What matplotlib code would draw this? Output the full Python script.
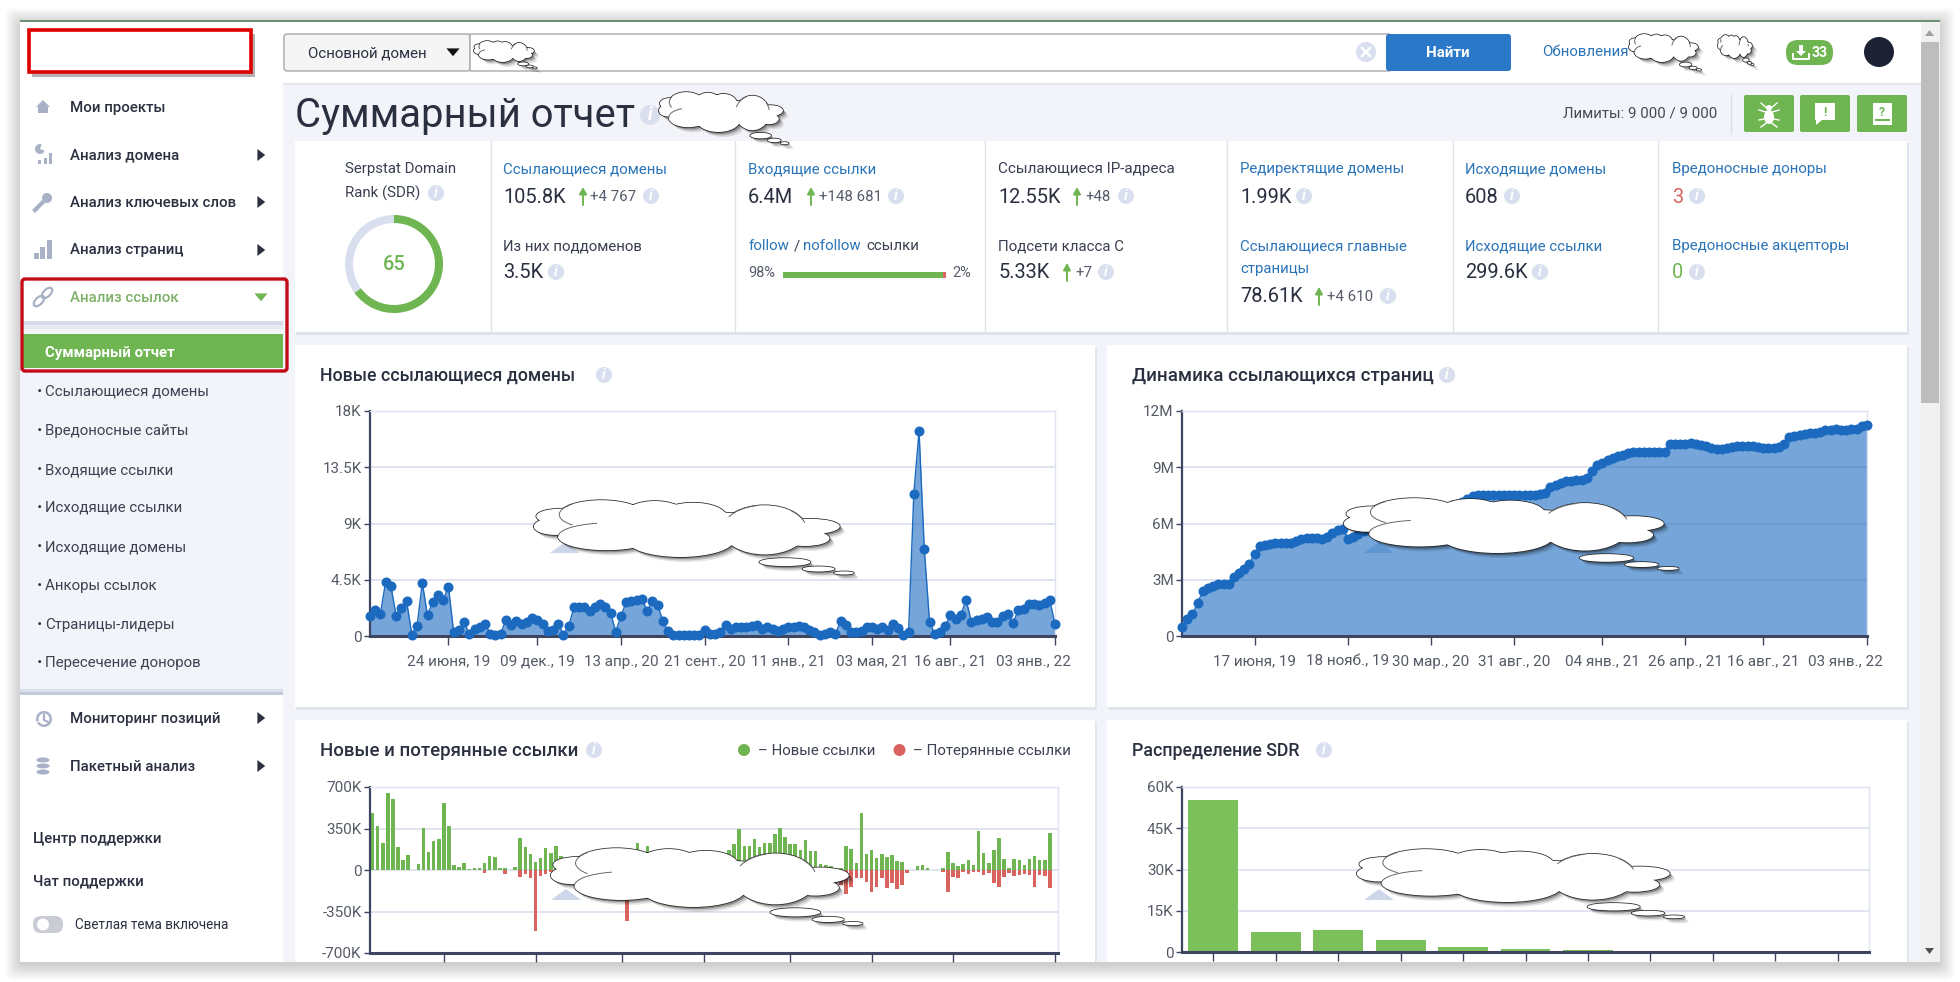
import numpy as np
import matplotlib
matplotlib.use('Agg')
import matplotlib.pyplot as plt
from matplotlib.patches import Rectangle, FancyBboxPatch, Circle, Wedge, Polygon, PathPatch, Ellipse, Arc
from matplotlib.path import Path
from matplotlib.transforms import Affine2D, ScaledTranslation

plt.rcParams['font.family'] = ['Roboto', 'DejaVu Sans']

W, H = 1960, 982

# chart values
new_domains_k = [1.6, 2.05, 1.8, 4.35, 4.0, 1.6, 2.25, 2.8, 0.1, 0.8, 4.25, 1.65, 2.75, 3.3, 2.9, 3.95,
                 0.3, 0.5, 1.1, 0.15, 0.6, 0.75, 0.95, 0.2, 0.05, 0.2, 1.3, 0.9, 1.2, 0.95, 1.15, 1.45,
                 1.3, 0.95, 0.4, 0.5, 1.0, 0.1, 0.8, 2.3, 2.3, 2.35, 2.0, 2.3, 2.55, 2.3, 1.85, 0.35,
                 1.6, 2.75, 2.8, 2.85, 3.0, 2.0, 2.8, 2.5, 1.2, 0.4, 0.1, 0.05, 0.1, 0.1, 0.05, 0.05,
                 0.45, 0.15, 0.2, 0.3, 0.85, 0.6, 0.7, 0.7, 0.75, 0.8, 0.85, 0.6, 0.75, 0.6, 0.4, 0.6,
                 0.7, 0.75, 0.8, 0.7, 0.5, 0.3, 0.05, 0.2, 0.3, 0.15, 1.2, 0.9, 0.3, 0.35, 0.4, 0.7,
                 0.7, 0.6, 0.75, 0.5, 0.95, 0.65, 0.1, 0.3, 11.4, 16.4, 7.0, 1.15, 0.15, 0.3, 0.8, 1.7,
                 1.4, 1.7, 2.9, 1.15, 1.3, 1.4, 1.5, 1.15, 1.1, 1.6, 1.75, 1.05, 2.1, 2.15, 2.6, 2.6,
                 2.5, 2.65, 2.85, 0.95]
new_domains_ticks = ['24 июня, 19', '09 дек., 19', '13 апр., 20', '21 сент., 20', '11 янв., 21',
                     '03 мая, 21', '16 авг., 21', '03 янв., 22']
new_domains_idx = [15, 32, 48, 64, 80, 96, 111, 131]

pages_m = [0.5, 0.9, 1.15, 1.75, 2.4, 2.55, 2.65, 2.75, 2.75, 2.8, 3.15, 3.35, 3.55, 3.85, 4.4, 4.8, 4.85,
           4.9, 4.95, 4.95, 4.95, 4.95, 5.05, 5.15, 5.25, 5.25, 5.25, 5.2, 5.3, 5.5, 5.65, 5.7, 5.2, 5.3, 5.45,
           5.6, 5.7, 5.8, 5.9, 6.0, 6.05, 6.15, 6.2, 6.3, 6.35, 6.45, 6.5, 6.6, 6.65, 6.75, 6.8, 6.9, 7.0, 7.05, 7.15,
           7.3, 7.45, 7.5, 7.5, 7.5, 7.5, 7.5, 7.5, 7.5, 7.5, 7.5, 7.5, 7.5, 7.5, 7.55, 7.65, 7.95, 8.05, 8.15, 8.25,
           8.25, 8.3, 8.3, 8.45, 8.8, 9.1, 9.25, 9.4, 9.5, 9.6, 9.65, 9.75, 9.8, 9.8, 9.8, 9.8, 9.8, 9.8, 9.8,
           10.25, 10.25, 10.25, 10.25, 10.3, 10.25, 10.2, 10.15, 10.05, 10.0, 10.0, 10.05, 10.1, 10.15, 10.15, 10.15,
           10.15, 10.1, 10.05, 10.05, 10.05, 10.1, 10.25, 10.6, 10.65, 10.7, 10.75, 10.85, 10.85, 10.9, 11.0, 11.0,
           11.05, 11.0, 11.0, 11.05, 11.05, 11.2, 11.25]
pages_ticks = ['17 июня, 19', '18 нояб., 19', '30 мар., 20', '31 авг., 20', '04 янв., 21',
               '26 апр., 21', '16 авг., 21', '03 янв., 22']
pages_idx = [14, 32, 48, 64, 81, 97, 112, 132]

links_new_k = [478, 370, 229, 648, 600, 195, 88, 125, 0, 48, 356, 150, 243, 260, 568, 370, 40, 25, 59, 5, 14, 20,
               59, 119, 110, 14, 15, 0, 22, 268, 195, 139, 65, 100, 184, 142, 201,
               120, 90, 60, 80, 110, 70, 60, 90, 50, 70, 80, 60, 90, 110, 130, 224, 130, 200,
               100, 120, 90, 70, 60, 80, 110, 50, 70, 60, 90, 120, 80, 100, 140, 170,
               218, 342, 200, 204, 258, 195, 224, 226, 303, 356, 275, 218, 218, 167, 249, 161, 164, 54,
               40, 30, 20, 15, 200, 175, 57, 481, 133, 167, 99, 139, 108, 125, 79, 65, 0, 0, 31, 45, 20, 0, 0,
               14, 150, 57, 31, 48, 85, 40, 331, 142, 57, 170, 269, 91, 14, 91, 82, 45, 96, 119, 82, 82, 311]
links_lost_k = [0] * 22 + [25, 0, 0, 0, 31, 0, 0, 60, 37, 65, 512, 50, 31, 20, 25,
                           30, 25, 20, 30, 25, 30, 20, 30, 25, 20, 30, 25, 30, 427,
                           30, 25, 30, 20, 30, 25, 30, 30, 25, 20, 30, 25, 30, 20, 30, 25, 30, 30, 20, 25, 30,
                           25, 30, 20, 30, 25, 30, 30, 25, 20, 30, 25, 30, 20, 30, 25, 30, 60, 80, 100, 110,
                           130, 206, 144, 65, 65, 105, 184, 144, 65, 156, 110, 158, 125, 25, 0, 0, 0, 0, 0, 0,
                           17, 184, 60, 71, 17, 31, 14, 14, 42, 25, 110, 144, 60, 28, 51, 42, 37, 42, 144, 42, 51, 150]
links_idx = [14, 32, 49, 65, 82, 98, 114, 134]

sdr_k = [55.4, 7.4, 8.1, 4.5, 2.0, 1.1, 0.7, 0.2, 0.1, 0.05, 0.02]

menu_main = [('Мои проекты', 107), ('Анализ домена', 154), ('Анализ ключевых слов', 202), ('Анализ страниц', 249)]
menu_sub = [('Ссылающиеся домены', 391), ('Вредоносные сайты', 430), ('Входящие ссылки', 469),
            ('Исходящие ссылки', 507), ('Исходящие домены', 546), ('Анкоры ссылок', 585),
            ('Страницы-лидеры', 624), ('Пересечение доноров', 662)]

BLUE = '#2b74b8'
DARK = '#2a3040'
GREEN = '#6fb552'
RED = '#d9645f'
LIGHT = '#d9dfee'
GRID = '#dfe4f0'
AXIS = '#3d4560'
ICON = '#a9b1c7'

fig = plt.figure(figsize=(W / 100, H / 100), dpi=100, facecolor='white')
ax = fig.add_axes([0, 0, 1, 1], zorder=0)
ax.set_xlim(0, W)
ax.set_ylim(H, 0)
ax.axis('off')


def rect(a, x0, y0, x1, y1, color, z=1, **kw):
    a.add_patch(Rectangle((x0, y0), x1 - x0, y1 - y0, facecolor=color, edgecolor='none', zorder=z, **kw))


def rbox(a, x0, y0, x1, y1, color, r=3, z=2, ec='none', lw=0):
    a.add_patch(FancyBboxPatch((x0, y0), x1 - x0, y1 - y0, boxstyle='round,pad=0,rounding_size=%g' % r,
                               facecolor=color, edgecolor=ec, linewidth=lw, zorder=z))


def t(x, y, s, px=15, color=DARK, ha='left', weight='normal', **kw):
    ax.text(x, y + 1, s, fontsize=px * 0.72, color=color, ha=ha, va='center', weight=weight, zorder=6, **kw)


def info(x, y, r=8):
    ax.add_patch(Circle((x, y), r, facecolor=LIGHT, edgecolor='none', zorder=5))
    ax.text(x, y, 'i', fontsize=r * 1.3, color='white', ha='center', va='center', style='italic',
            weight='bold', zorder=6)


def up(x, y):
    ax.annotate('', xy=(x, y - 9), xytext=(x, y + 9),
                arrowprops=dict(arrowstyle='-|>,head_width=0.22,head_length=0.4', color=GREEN, lw=1.4,
                                shrinkA=0, shrinkB=0), zorder=6)


def tri(x, y, color='#2a3040', kind='right', s=6):
    if kind == 'right':
        pts = [(x - s * 0.6, y - s), (x - s * 0.6, y + s), (x + s * 0.7, y)]
    else:
        pts = [(x - s * 1.1, y - s * 0.6), (x + s * 1.1, y - s * 0.6), (x, y + s * 0.7)]
    ax.add_patch(Polygon(pts, facecolor=color, edgecolor='none', zorder=6))


# frame with soft shadow
for i in range(16):
    rbox(ax, 20 - i, 20 - i + 3, 1940 + i, 962 + i + 3, 'black', r=8, z=0.2)
    ax.patches[-1].set_alpha(0.012)
rect(ax, 20, 20, 1940, 962, '#f2f4f9', z=0.5)

# scrollbar
rect(ax, 1921, 20, 1940, 962, '#f1f1f1', z=1)
rect(ax, 1921, 42, 1939, 403, '#bdbdbd', z=2)
ax.add_patch(Polygon([(1925, 36), (1934, 36), (1929.5, 30)], facecolor='#a0a0a0', edgecolor='none', zorder=3))
ax.add_patch(Polygon([(1925, 948), (1934, 948), (1929.5, 954)], facecolor='#505050', edgecolor='none', zorder=3))

# header
rect(ax, 283, 20, 1921, 84, 'white', z=1)
rect(ax, 283, 83, 1921, 85, '#e4e7ee', z=1)
rect(ax, 20, 19.5, 1940, 21.5, '#6d8f72', z=5)
rbox(ax, 284, 34, 470, 71, '#f5f5f5', r=3, ec='#a8a8a8', lw=1)
rbox(ax, 470, 34, 1390, 71, 'white', r=0.5, ec='#a8a8a8', lw=1)
t(308, 52, 'Основной домен', 15)
tri(453, 52, kind='down', color='#111111')
ax.add_patch(Circle((1366, 52), 10, facecolor=LIGHT, edgecolor='none', zorder=5))
ax.plot([1362, 1370], [48, 56], color='white', lw=1.8, zorder=6)
ax.plot([1362, 1370], [56, 48], color='white', lw=1.8, zorder=6)
rbox(ax, 1386, 34, 1511, 71, '#2a78c8', r=3, z=3)
t(1448, 52, 'Найти', 15, color='white', ha='center', weight='bold')
t(1542, 51, 'Обновления', 15, color=BLUE)
rbox(ax, 1786, 40, 1833, 65, '#6fb552', r=12, z=3)
t(1820, 52, '33', 14, color='white', ha='center', weight='bold')
ax.add_patch(Polygon([(1799, 45), (1803, 45), (1803, 51), (1806, 51), (1801, 56), (1796, 51), (1799, 51)],
                     facecolor='white', edgecolor='none', zorder=6))
ax.plot([1793, 1793, 1809, 1809], [54, 59, 59, 54], color='white', lw=1.4, zorder=6)
ax.add_patch(Circle((1879, 52), 15, facecolor='#1c2233', edgecolor='none', zorder=5))

# sidebar
rect(ax, 20, 20, 283, 962, 'white', z=1)
rect(ax, 20, 322, 283, 695, '#f2f4f9', z=1.5)
rect(ax, 20, 321, 283, 325, '#d6dbe8', z=1.6)
rect(ax, 20, 325, 283, 329, '#e6e9f1', z=1.6)
rect(ax, 20, 689, 283, 692, '#dbe0ea', z=1.6)
rect(ax, 20, 692, 283, 695, '#c2cadb', z=1.6)
rect(ax, 23, 334, 283, 368, GREEN, z=2)
t(45, 352, 'Суммарный отчет', 15, color='white', weight='bold')

rect(ax, 32, 34, 255, 77, '#555555', z=2, alpha=0.45)
rect(ax, 29, 30, 251, 72, 'white', z=3)
ax.add_patch(Rectangle((29, 30), 222, 42, facecolor='none', edgecolor='#e00000', linewidth=2.6, zorder=4))
ax.add_patch(FancyBboxPatch((22, 279), 265, 92, boxstyle='round,pad=0,rounding_size=3', facecolor='none',
                            edgecolor='#c20c18', linewidth=2.4, zorder=7))

for label, y in menu_main:
    t(70, y, label, 15, weight='medium')
t(70, 297, 'Анализ ссылок', 15, color='#7fb068', weight='medium')
t(70, 718, 'Мониторинг позиций', 15, weight='medium')
t(70, 766, 'Пакетный анализ', 15, weight='medium')
for y in [155, 202, 250, 718, 766]:
    tri(261, y)
tri(261, 297, color=GREEN, kind='down', s=6)
for label, y in menu_sub:
    t(37, y, '·', 18, weight='bold')
    t(45, y, label, 15, color='#3c4252')
t(33, 838, 'Центр поддержки', 15, weight='medium')
t(33, 881, 'Чат поддержки', 15, weight='medium')
rbox(ax, 33, 916, 63, 933, '#c9ccd3', r=8, z=3)
ax.add_patch(Circle((43, 924.5), 6, facecolor='white', edgecolor='none', zorder=4))
t(75, 924, 'Светлая тема включена', 13.5)

# sidebar icons
ax.add_patch(Polygon([(36, 107), (43, 100), (50, 107), (48, 107), (48, 113), (38, 113), (38, 107)],
                     facecolor=ICON, edgecolor='none', zorder=5))
for x, y0, h in [(38, 160, 4), (44, 158, 6), (49, 153, 11)]:
    rect(ax, x, y0, x + 3, y0 + h, ICON, z=5)
ax.add_patch(Wedge((40, 149), 5, 20, 290, facecolor=ICON, edgecolor='none', zorder=5))
ax.add_patch(Circle((47, 198), 5, facecolor=ICON, edgecolor='none', zorder=5))
ax.plot([44, 35], [201, 210], color=ICON, lw=3, zorder=5)
for x, y0 in [(34, 253), (40, 247), (47, 240)]:
    rect(ax, x, y0, x + 5, 259, ICON, z=5)
for cx, cy in [(39, 301), (47, 293)]:
    ax.add_patch(Ellipse((cx, cy), 13, 7, angle=-45, facecolor='none', edgecolor=ICON, linewidth=1.6, zorder=5))
ax.add_patch(Wedge((44, 719), 8, -200, 150, width=2.5, facecolor=ICON, edgecolor='none', zorder=5))
ax.plot([44, 44, 48], [715, 720, 722], color=ICON, lw=1.6, zorder=5)
for y in [760, 766, 772]:
    ax.add_patch(Ellipse((43, y), 14, 6, facecolor=ICON, edgecolor='white', linewidth=0.6, zorder=5))

# title row
t(295, 114, 'Суммарный отчет', 40, color='#2a3040')
info(650, 115, 10)
t(1717, 112, 'Лимиты: 9 000 / 9 000', 15, color='#444a58', ha='right')
ax.plot([1731, 1731], [95, 132], color='#d8dce6', lw=1, zorder=3)
for x0 in [1744, 1800, 1857]:
    rbox(ax, x0, 95, x0 + 50, 132, GREEN, r=2, z=3)
# spider
ax.add_patch(Ellipse((1769, 117), 10, 14, facecolor='white', edgecolor='none', zorder=5))
ax.add_patch(Circle((1769, 108), 3, facecolor='white', edgecolor='none', zorder=5))
for dy, dy2, spread in [(110, 103, 8), (113, 110, 10), (118, 120, 10), (121, 127, 8)]:
    ax.plot([1769 - spread, 1769, 1769 + spread], [dy2, dy, dy2], color='white', lw=1, zorder=5)
# bubble with exclamation
ax.add_patch(Polygon([(1815, 103), (1835, 103), (1835, 120), (1822, 120), (1816, 125), (1816, 120), (1815, 120)],
                     facecolor='white', edgecolor='none', zorder=5))
t(1825, 111, '!', 13, color=GREEN, ha='center', weight='bold')
# book with question mark
rect(ax, 1873, 103, 1892, 125, 'white', z=5)
rect(ax, 1875, 119, 1890, 121, GREEN, z=6)
t(1882, 111, '?', 12, color=GREEN, ha='center', weight='bold')

# summary card
rect(ax, 296, 143, 1909, 335, '#dde2ec', z=1)
rect(ax, 295, 141, 1907, 332, 'white', z=2)
for x in [490.5, 735, 985, 1227, 1453, 1658]:
    ax.plot([x, x], [141, 332], color='#dfe2e9', lw=1, zorder=3)

t(345, 168, 'Serpstat Domain', 15, color='#3a4050')
t(345, 192, 'Rank (SDR)', 15, color='#3a4050')
info(436, 193)
ax.add_patch(Wedge((394, 264), 49, -90, 144, width=8, facecolor='#6fb552', edgecolor='none', zorder=4))
ax.add_patch(Wedge((394, 264), 49, 144, 270, width=8, facecolor=LIGHT, edgecolor='none', zorder=4))
t(394, 263, '65', 20, color=GREEN, ha='center', weight='medium')

t(503, 168, 'Ссылающиеся домены', 15, color=BLUE)
t(503, 196, '105.8K', 20)
up(583, 196)
t(590, 196, '+4 767', 15, color='#555b6a')
info(651, 196)
t(503, 245, 'Из них поддоменов', 15, color='#3a4050')
t(503, 272, '3.5K', 20)
info(556, 272)

t(748, 168, 'Входящие ссылки', 15, color=BLUE)
t(748, 196, '6.4M', 20)
up(811, 196)
t(819, 196, '+148 681', 15, color='#555b6a')
info(896, 196)
t(748, 245, 'follow', 15, color=BLUE)
t(794, 245, '/', 15, color='#3a4050')
t(803, 245, 'nofollow', 15, color=BLUE)
t(866, 245, 'ссылки', 15, color='#3a4050')
t(748, 272, '98%', 14.5, color='#555b6a')
rect(ax, 783, 272, 943, 278, GREEN, z=4)
rect(ax, 943, 272, 946, 278, RED, z=4)
t(952, 272, '2%', 14.5, color='#555b6a')

t(998, 168, 'Ссылающиеся IP-адреса', 15.3, color='#3a4050')
t(998, 196, '12.55K', 20)
up(1077, 196)
t(1085, 196, '+48', 15, color='#555b6a')
info(1126, 196)
t(998, 245, 'Подсети класса С', 15, color='#3a4050')
t(998, 272, '5.33K', 20)
up(1067, 272)
t(1075, 272, '+7', 15, color='#555b6a')
info(1106, 272)

t(1240, 168, 'Редиректящие домены', 15, color=BLUE)
t(1240, 196, '1.99K', 20)
info(1304, 196)
t(1240, 245, 'Ссылающиеся главные', 15, color=BLUE)
t(1240, 268, 'страницы', 15, color=BLUE)
t(1240, 296, '78.61K', 20)
up(1319, 296)
t(1327, 296, '+4 610', 15, color='#555b6a')
info(1388, 296)

t(1465, 168, 'Исходящие домены', 15, color=BLUE)
t(1465, 196, '608', 20)
info(1512, 196)
t(1465, 245, 'Исходящие ссылки', 15, color=BLUE)
t(1465, 272, '299.6K', 20)
info(1540, 272)

t(1672, 168, 'Вредоносные доноры', 15, color=BLUE)
t(1672, 196, '3', 20, color=RED)
info(1697, 196)
t(1672, 245, 'Вредоносные акцепторы', 15, color=BLUE)
t(1672, 272, '0', 20, color=GREEN)
info(1697, 272)

# chart cards
for x0, x1, y0, y1 in [(295, 1095, 345, 707), (1107, 1907, 345, 707), (295, 1095, 720, 962), (1107, 1907, 720, 962)]:
    rect(ax, x0 + 1, y0 + 2, x1 + 2, min(y1 + 3, 962), '#e1e5ee', z=1)
    rect(ax, x0, y0, x1, y1, 'white', z=2)
t(320, 375, 'Новые ссылающиеся домены', 17.7, weight='medium')
info(604, 375)
t(1132, 375, 'Динамика ссылающихся страниц', 18.8, weight='medium')
info(1447, 375)
t(320, 750, 'Новые и потерянные ссылки', 18.7, weight='medium')
info(594, 750)
t(1132, 750, 'Распределение SDR', 17.7, weight='medium')
info(1324, 750)
ax.add_patch(Circle((744, 750), 6, facecolor=GREEN, edgecolor='none', zorder=5))
t(758, 750, '– Новые ссылки', 15, color='#3c4252')
ax.add_patch(Circle((899.5, 750), 6, facecolor=RED, edgecolor='none', zorder=5))
t(913, 750, '– Потерянные ссылки', 15, color='#3c4252')


def chart_axes(x0, y0, x1, y1):
    a = fig.add_axes([x0 / W, 1 - y1 / H, (x1 - x0) / W, (y1 - y0) / H], zorder=1)
    a.patch.set_alpha(0)
    for s in ['top', 'right']:
        a.spines[s].set_color(GRID)
        a.spines[s].set_linewidth(1)
    a.spines['left'].set_color(AXIS)
    a.spines['left'].set_linewidth(1.6)
    a.spines['bottom'].set_color(AXIS)
    a.spines['bottom'].set_linewidth(2.2)
    a.grid(axis='y', color=GRID, lw=1.4, zorder=0)
    a.set_axisbelow(True)
    a.tick_params(axis='y', length=4, width=1, color=AXIS, labelsize=11, labelcolor='#555b66', pad=2)
    a.tick_params(axis='x', length=6.5, width=1, color=AXIS, labelsize=11, labelcolor='#555b66', pad=7)
    return a


def area_chart(a, values, ymax, yticks, ylabels, idx, labels):
    x = np.arange(len(values))
    a.fill_between(x, values, 0, color='#1b6ac0', alpha=0.6, lw=0, zorder=2)
    a.plot(x, values, color='#1b6ac0', lw=1, marker='o', ms=7.2, mew=0, clip_on=False, zorder=3)
    a.set_xlim(0, len(values) - 1)
    a.set_ylim(0, ymax)
    a.set_yticks(yticks)
    a.set_yticklabels(ylabels)
    a.set_xticks(idx)
    a.set_xticklabels(labels)
    # last date label sits left of its tick
    last = a.get_xticklabels()[-1]
    last.set_transform(last.get_transform() + ScaledTranslation(-22 / 100, 0, fig.dpi_scale_trans))


ax1 = chart_axes(370, 411, 1055, 636)
area_chart(ax1, new_domains_k, 18, [0, 4.5, 9, 13.5, 18], ['0', '4.5K', '9K', '13.5K', '18K'],
           new_domains_idx, new_domains_ticks)

ax2 = chart_axes(1182, 411, 1867, 636)
area_chart(ax2, pages_m, 12, [0, 3, 6, 9, 12], ['0', '3M', '6M', '9M', '12M'], pages_idx, pages_ticks)

ax3 = chart_axes(370, 787, 1058, 953)
xb = np.arange(len(links_new_k))
ax3.bar(xb, links_new_k, width=0.7, color=GREEN, zorder=2)
ax3.bar(xb, -np.array(links_lost_k), width=0.7, color=RED, zorder=2)
ax3.set_xlim(-0.5, 134.6)
ax3.set_ylim(-700, 700)
ax3.set_yticks([-700, -350, 0, 350, 700])
ax3.set_yticklabels(['-700K', '-350K', '0', '350K', '700K'])
ax3.set_xticks(links_idx)
ax3.set_xticklabels([])

ax4 = chart_axes(1182, 787, 1869, 952)
ax4.bar(np.arange(len(sdr_k)), sdr_k, width=0.8, color='#7cc05c', zorder=2)
ax4.set_xlim(-0.5, 10.5)
ax4.set_ylim(0, 60)
ax4.set_yticks([0, 15, 30, 45, 60])
ax4.set_yticklabels(['0', '15K', '30K', '45K', '60K'])
ax4.set_xticks(np.arange(len(sdr_k)))
ax4.set_xticklabels([])

# redaction clouds on top of everything
top = fig.add_axes([0, 0, 1, 1], zorder=3)
top.set_xlim(0, W)
top.set_ylim(H, 0)
top.axis('off')
top.patch.set_alpha(0)

lobes = [(510, 410, 95, 45), (500, 440, 85, 50), (600, 470, 190, 80), (590, 405, 165, 85), (695, 405, 120, 80),
         (770, 410, 130, 80), (745, 480, 210, 100), (910, 450, 165, 145), (1000, 440, 115, 45), (990, 475, 95, 45),
         (750, 440, 400, 90)]
tails = [(0.82, 1.09, 0.167, 0.14), (0.93, 1.21, 0.105, 0.09), (1.013, 1.28, 0.065, 0.055)]
# inner outlines: lobe index, start and end angle
creases = [(3, 160, 200), (2, 180, 235), (7, 200, 250), (7, -35, -10)]


def union(items):
    return Path.make_compound_path(*[
        Path.unit_circle().transformed(Affine2D().scale(w / 2, h / 2).translate(cx, cy)) for cx, cy, w, h in items])


def cloud(x0, y0, x1, y1):
    bw, bh = x1 - x0, y1 - y0
    items = [(x0 + (c - 458) / 600 * bw, y0 + (d - 362) / 168 * bh, w / 600 * bw, h / 168 * bh)
             for c, d, w, h in lobes]
    small = [(x0 + u * bw, y0 + v * bh, w * bw, h * bh) for u, v, w, h in tails]
    for group in [items] + [[s] for s in small]:
        p = union(group)
        for off, alpha in [(5, 0.10), (3.5, 0.16), (2, 0.28)]:
            shifted = p.transformed(Affine2D().translate(off, off))
            top.add_patch(PathPatch(shifted, facecolor='black', edgecolor='none', alpha=alpha, zorder=1))
        top.add_patch(PathPatch(p, facecolor='white', edgecolor='#222222', linewidth=1.1, zorder=2))
        top.add_patch(PathPatch(p, facecolor='white', edgecolor='none', linewidth=0, zorder=3))
    for i, a0, a1 in creases:
        cx, cy, w, h = items[i]
        top.add_patch(Arc((cx, cy), w, h, theta1=a0, theta2=a1, color='#666666', lw=0.7, zorder=4))


for (tx, ty, col) in [(550, 553, '#cdd7ea'), (1364, 553, '#5f97d2'), (551, 900, '#cdd7ea'), (1364, 900, '#cdd7ea')]:
    top.add_patch(Polygon([(tx, ty), (tx + 30, ty), (tx + 15, ty - 11)], facecolor=col, edgecolor='none', zorder=0.5))

cloud(534, 500, 840, 557)
cloud(1344, 498, 1664, 553)
cloud(551, 848, 849, 907)
cloud(1357, 849, 1670, 902)
cloud(474, 41, 534, 62)
cloud(659, 92, 783, 132)
cloud(1629, 34, 1698, 62)
cloud(1718, 35, 1752, 58)

fig.savefig('out.png', dpi=100, facecolor='white')
